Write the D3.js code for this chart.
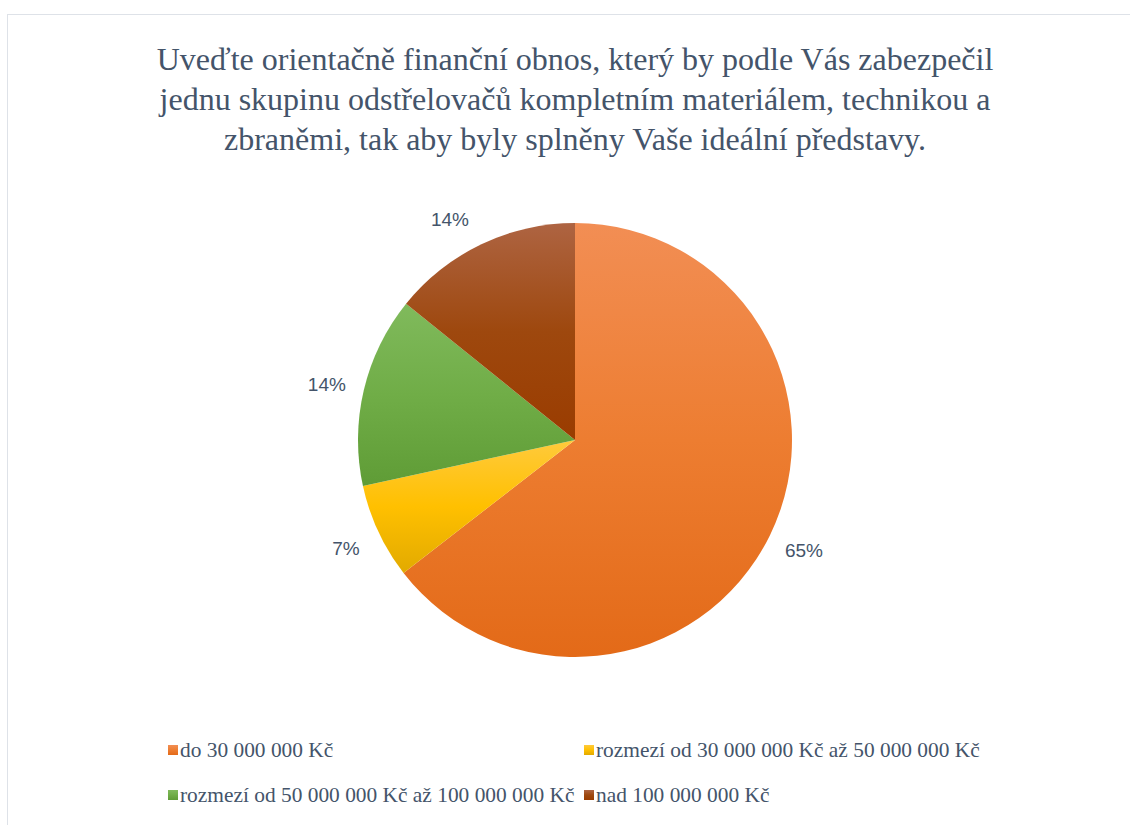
<!DOCTYPE html>
<html><head><meta charset="utf-8">
<script src="https://cdn.jsdelivr.net/npm/d3@7"></script>
<style>body{margin:0;background:#fff}</style>
</head><body>
<svg id="c" width="1130" height="825"></svg>
<script>
const titleLines = ["Uveďte orientačně finanční obnos, který by podle Vás zabezpečil",
  "jednu skupinu odstřelovačů kompletním materiálem, technikou a",
  "zbraněmi, tak aby byly splněny Vaše ideální představy."];
const categories = ["do 30 000 000 Kč","rozmezí od 30 000 000 Kč až 50 000 000 Kč",
  "rozmezí od 50 000 000 Kč až 100 000 000 Kč","nad 100 000 000 Kč"];
const values = [64.5, 7.1, 14.2, 14.2];
const baseColors = ["#ED7D31","#FFC000","#70AD47","#9E480E"];
const topColors = ["#F28E54","#FFCA3C","#80BA5C","#AE6442"];
const bottomColors = ["#E36A18","#E2AA00","#5F9C36","#9A3C00"];

const svg = d3.select("#c");
const textCol = "#44546A";
svg.append("rect").attr("x",7.5).attr("y",14.5).attr("width",1130).attr("height",830)
  .attr("fill","#fff").attr("stroke","#DEE2E8").attr("stroke-width",1);

svg.append("text").attr("text-anchor","middle").attr("font-family","'Liberation Serif','Times New Roman',serif")
  .attr("font-size",32).attr("fill",textCol)
  .selectAll("tspan").data(titleLines).join("tspan")
  .attr("x",575).attr("y",(d,i)=>70+i*40).text(d=>d);

const defs = svg.append("defs");
values.forEach((v,i)=>{
  const g = defs.append("linearGradient").attr("id","g"+i).attr("x1",0).attr("y1",0).attr("x2",0).attr("y2",1);
  g.append("stop").attr("offset","0%").attr("stop-color",topColors[i]);
  g.append("stop").attr("offset","50%").attr("stop-color",baseColors[i]);
  g.append("stop").attr("offset","100%").attr("stop-color",bottomColors[i]);
});

const cx=575, cy=440, R=217;
const pie = d3.pie().sort(null).value(d=>d);
const arcs = pie(values);
const arc = d3.arc().innerRadius(0).outerRadius(R);
const labelArc = d3.arc().innerRadius(255).outerRadius(255);
const labelNudge = [[0,-2],[2,0],[0,3],[-15,9]];
const g = svg.append("g").attr("transform",`translate(${cx},${cy})`);
g.selectAll("path").data(arcs).join("path").attr("d",arc).attr("fill",(d,i)=>`url(#g${i})`);
const total = d3.sum(values);
g.selectAll("text.lbl").data(arcs).join("text").attr("class","lbl")
  .attr("transform",(d,i)=>{const c=labelArc.centroid(d);return `translate(${c[0]+labelNudge[i][0]},${c[1]+labelNudge[i][1]})`;})
  .attr("text-anchor","middle").attr("dy","0.35em")
  .attr("font-family","'Liberation Sans',Arial,sans-serif").attr("font-size",19).attr("fill",textCol)
  .text(d=>Math.round(d.value/total*100)+"%");

const legPos = [[168,757],[584,757],[168,802],[584,802]];
const leg = svg.selectAll("g.leg").data(categories).join("g").attr("class","leg")
  .attr("transform",(d,i)=>`translate(${legPos[i][0]},${legPos[i][1]})`);
leg.append("rect").attr("x",0).attr("y",-12).attr("width",10).attr("height",10).attr("fill",(d,i)=>`url(#g${i})`);
leg.append("text").attr("x",12).attr("y",0).attr("font-family","'Liberation Serif','Times New Roman',serif")
  .attr("font-size",21.4).attr("fill",textCol).text(d=>d);
</script>
</body></html>
